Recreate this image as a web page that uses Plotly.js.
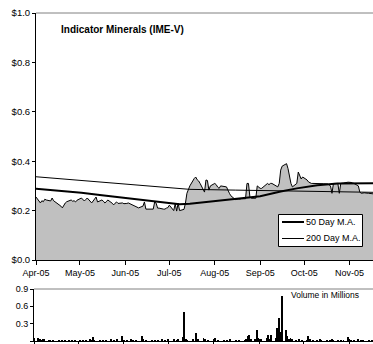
<!DOCTYPE html>
<html>
<head>
<meta charset="utf-8">
<script src="https://cdn.plot.ly/plotly-3.0.1.min.js"></script>
<style>html,body{margin:0;padding:0;background:#fff;}#chart{width:373px;height:344px;}</style>
</head>
<body>
<div id="chart"></div>
<script>
// Closing price (C$) by trading day, 2005 (MM-DD)
var priceDates = [
 '04-01','04-04','04-05','04-06','04-07','04-08','04-11','04-12','04-13','04-14','04-15','04-18','04-19','04-20','04-21','04-22','04-25','04-26','04-27','04-28','04-29',
 '05-02','05-03','05-04','05-05','05-06','05-09','05-10','05-11','05-12','05-13','05-16','05-17','05-18','05-19','05-20','05-23','05-24','05-25','05-26','05-27','05-30','05-31',
 '06-01','06-02','06-03','06-06','06-07','06-08','06-09','06-10','06-13','06-14','06-15','06-16','06-17','06-20','06-21','06-22','06-23','06-24','06-27','06-28','06-29','06-30',
 '07-01','07-04','07-05','07-06','07-07','07-08','07-11','07-12','07-13','07-14','07-15','07-18','07-19','07-20','07-21','07-22','07-25','07-26','07-27','07-28','07-29',
 '08-01','08-02','08-03','08-04','08-05','08-08','08-09','08-11','08-12','08-15','08-16','08-17','08-18','08-19','08-22','08-23','08-24','08-25','08-26','08-29','08-30','08-31',
 '09-01','09-02','09-06','09-07','09-08','09-09','09-12','09-13','09-14','09-15','09-16','09-19','09-20','09-21','09-22','09-23','09-26','09-27','09-28','09-29','09-30',
 '10-03','10-04','10-05','10-06','10-07','10-10','10-11','10-12','10-13','10-14','10-17','10-18','10-19','10-20','10-21','10-24','10-25','10-26','10-27','10-28','10-31',
 '11-01','11-02','11-03','11-04','11-07','11-08','11-09','11-10','11-11','11-14','11-15','11-16','11-17'
];
var priceValues = [
 0.255,0.231,0.240,0.236,0.246,0.243,0.239,0.251,0.240,0.236,0.231,0.218,0.211,0.222,0.231,0.236,0.243,0.238,0.240,0.235,0.242,
 0.251,0.243,0.239,0.245,0.251,0.231,0.238,0.246,0.255,0.235,0.243,0.238,0.231,0.236,0.243,0.230,0.223,0.230,0.235,0.229,0.231,0.228,
 0.227,0.229,0.231,0.223,0.220,0.216,0.213,0.211,0.218,0.235,0.206,0.206,0.206,0.206,0.235,0.230,0.210,0.210,0.206,0.206,0.210,0.212,
 0.222,0.200,0.228,0.198,0.230,0.200,0.205,0.230,0.270,0.290,0.300,0.330,0.336,0.325,0.320,0.310,0.275,0.324,0.322,0.283,0.300,
 0.310,0.305,0.295,0.290,0.300,0.295,0.296,0.270,0.260,0.245,0.247,0.247,0.246,0.248,0.248,0.310,0.310,0.255,0.250,0.250,0.300,0.295,
 0.290,0.290,0.310,0.305,0.310,0.310,0.300,0.296,0.310,0.364,0.380,0.390,0.370,0.336,0.310,0.296,0.310,0.356,0.340,0.328,0.336,
 0.324,0.316,0.312,0.310,0.310,0.310,0.312,0.310,0.310,0.309,0.308,0.305,0.300,0.270,0.310,0.310,0.270,0.310,0.310,0.312,0.315,
 0.316,0.314,0.312,0.310,0.300,0.275,0.270,0.272,0.272,0.270,0.270,0.268,0.268
];
// 50 day moving average
var ma50Dates  = ['04-01','04-15','05-02','05-16','06-01','06-15','07-01','07-08','07-15','08-01','08-15','09-01','09-15','09-26','10-10','10-24','11-17'];
var ma50Values = [0.288,0.282,0.272,0.262,0.252,0.243,0.232,0.226,0.228,0.238,0.245,0.258,0.277,0.290,0.303,0.310,0.311];
// 200 day moving average
var ma200Dates  = ['04-01','05-01','06-01','07-01','07-15','08-15','09-15','10-15','11-17'];
var ma200Values = [0.337,0.322,0.305,0.290,0.286,0.283,0.280,0.277,0.274];
// Volume in millions
var volDates = [
 '04-01','04-04','04-05','04-06','04-07','04-08','04-11','04-12','04-14','04-18','04-20','04-22','04-25','04-27','04-29',
 '05-02','05-04','05-06','05-09','05-10','05-11','05-12','05-16','05-18','05-20','05-23','05-25','05-27','05-31',
 '06-01','06-03','06-06','06-07','06-09','06-13','06-14','06-16','06-20','06-22','06-24','06-27','06-29',
 '07-01','07-05','07-07','07-08','07-11','07-12','07-13','07-14','07-18','07-20','07-21','07-25','07-26','07-28',
 '08-01','08-02','08-04','08-08','08-10','08-12','08-16','08-18','08-22','08-23','08-24','08-25','08-26','08-29','08-30','08-31',
 '09-01','09-02','09-06','09-07','09-08','09-09','09-12','09-13','09-14','09-15','09-16','09-19','09-20','09-21','09-22','09-23','09-26','09-28','09-30',
 '10-03','10-04','10-05','10-07','10-10','10-12','10-13','10-17','10-19','10-20','10-21','10-24','10-26','10-28','10-31',
 '11-01','11-02','11-04','11-07','11-09','11-10','11-14','11-16','11-17'
];
var volValues = [
 0.06,0.05,0.03,0.02,0.03,0.04,0.02,0.01,0.02,0.01,0.02,0.02,0.01,0.02,0.01,
 0.02,0.01,0.02,0.03,0.02,0.07,0.02,0.01,0.02,0.01,0.03,0.02,0.03,0.09,
 0.02,0.02,0.04,0.02,0.01,0.09,0.03,0.02,0.01,0.02,0.02,0.03,0.02,
 0.04,0.03,0.02,0.03,0.07,0.50,0.04,0.02,0.03,0.13,0.04,0.05,0.03,0.02,
 0.03,0.05,0.02,0.01,0.02,0.03,0.02,0.01,0.02,0.04,0.08,0.10,0.03,0.04,0.19,0.06,
 0.04,0.03,0.06,0.10,0.04,0.10,0.05,0.22,0.40,0.15,0.78,0.19,0.08,0.04,0.05,0.03,0.02,0.03,0.02,
 0.02,0.09,0.03,0.02,0.01,0.04,0.02,0.02,0.01,0.03,0.02,0.01,0.02,0.02,0.07,
 0.03,0.02,0.02,0.03,0.02,0.01,0.02,0.01,0.02
];
var priceTicks = [0, 0.2, 0.4, 0.6, 0.8, 1.0];
var priceTickLabels = ['$0.0', '$0.2', '$0.4', '$0.6', '$0.8', '$1.0'];
var volTicks = [0, 0.3, 0.6, 0.9];
var volTickLabels = ['0.0', '0.3', '0.6', '0.9'];
var monthTicks = ['04-01','05-01','06-01','07-01','08-01','09-01','10-01','11-01'];
var monthLabels = ['Apr-05','May-05','Jun-05','Jul-05','Aug-05','Sep-05','Oct-05','Nov-05'];
var chartTitle = 'Indicator Minerals (IME-V)';
var volTitle = 'Volume in Millions';
var legendNames = ['50 Day M.A.', '200 Day M.A.'];

function d(a){ return a.map(function(s){ return '2005-' + s; }); }

var W = 373, H = 344;
var FONT = 'Arial, "Liberation Sans", sans-serif';
var xRange = ['2005-04-01', '2005-11-17'];
function px(x){ return x / W; }
function py(y){ return (H - y) / H; }

var traces = [
 {x: d(priceDates), y: priceValues, type: 'scatter', mode: 'lines', fill: 'tozeroy',
  fillcolor: '#C0C0C0', line: {color: '#000', width: 1}, showlegend: false, hoverinfo: 'skip',
  xaxis: 'x', yaxis: 'y'},
 {x: d(ma50Dates), y: ma50Values, type: 'scatter', mode: 'lines', name: legendNames[0],
  line: {color: '#000', width: 2}, showlegend: false, xaxis: 'x', yaxis: 'y'},
 {x: d(ma200Dates), y: ma200Values, type: 'scatter', mode: 'lines', name: legendNames[1],
  line: {color: '#000', width: 1}, showlegend: false, xaxis: 'x', yaxis: 'y'},
 {x: d(volDates), y: volValues, type: 'bar', marker: {color: '#000', line: {width: 0}},
  width: 86400000 * 1.3, showlegend: false, xaxis: 'x2', yaxis: 'y2'}
];

var layout = {
 width: W, height: H,
 margin: {l: 0, r: 0, t: 0, b: 0},
 paper_bgcolor: '#fff', plot_bgcolor: '#fff',
 showlegend: false,
 font: {family: FONT, size: 9, color: '#000'},
 xaxis: {type: 'date', domain: [px(36), 1], range: xRange, anchor: 'y',
  tickmode: 'array', tickvals: d(monthTicks), ticktext: monthLabels, ticks: 'outside', ticklen: 4, tickcolor: '#000',
  showline: true, linecolor: '#000', linewidth: 1, showgrid: false, zeroline: false,
  tickfont: {family: FONT, size: 9, color: '#000'}},
 yaxis: {domain: [py(260), py(13)], range: [0, 1], anchor: 'x',
  tickmode: 'array', tickvals: priceTicks, ticktext: priceTickLabels, ticks: 'outside', ticklen: 3, tickcolor: '#000',
  showline: true, linecolor: '#000', linewidth: 1, showgrid: false, zeroline: false,
  tickfont: {family: FONT, size: 9.5, color: '#000'}},
 xaxis2: {type: 'date', domain: [px(34), 1], range: xRange, anchor: 'y2',
  tickmode: 'array', tickvals: d(monthTicks), showticklabels: false, ticks: 'outside', ticklen: 3, tickcolor: '#000',
  showline: true, linecolor: '#000', linewidth: 1, showgrid: false, zeroline: false},
 yaxis2: {domain: [py(341), py(289)], range: [0, 0.9], anchor: 'x2',
  tickmode: 'array', tickvals: volTicks, ticktext: volTickLabels, ticks: 'outside', ticklen: 3, tickcolor: '#000',
  showline: true, linecolor: '#000', linewidth: 1, showgrid: false, zeroline: false,
  tickfont: {family: FONT, size: 9, color: '#000'}},
 bargap: 0,
 shapes: [
  {type: 'line', xref: 'x domain', yref: 'y domain', x0: 0, x1: 1, y0: 1, y1: 1, line: {color: '#808080', width: 1}},
  {type: 'line', xref: 'x2 domain', yref: 'y2 domain', x0: 0, x1: 1, y0: 1, y1: 1, line: {color: '#808080', width: 1}},
  // legend box and samples
  {type: 'rect', xref: 'paper', yref: 'paper', x0: px(278.5), x1: px(362.5), y0: py(214.5), y1: py(246.5),
   fillcolor: '#fff', line: {color: '#000', width: 1}},
  {type: 'line', xref: 'paper', yref: 'paper', x0: px(282), x1: px(304), y0: py(222), y1: py(222), line: {color: '#000', width: 2}},
  {type: 'line', xref: 'paper', yref: 'paper', x0: px(282), x1: px(304), y0: py(238.5), y1: py(238.5), line: {color: '#000', width: 1}}
 ],
 annotations: [
  {text: '<b>' + chartTitle + '</b>', xref: 'paper', yref: 'paper', x: px(59), y: py(29),
   xanchor: 'left', yanchor: 'middle', showarrow: false, font: {family: FONT, size: 10, color: '#000'}},
  {text: volTitle, xref: 'paper', yref: 'paper', x: px(289), y: py(295),
   xanchor: 'left', yanchor: 'middle', showarrow: false, font: {family: FONT, size: 8.5, color: '#000'}},
  {text: legendNames[0], xref: 'paper', yref: 'paper', x: px(304), y: py(222),
   xanchor: 'left', yanchor: 'middle', showarrow: false, font: {family: FONT, size: 9, color: '#000'}},
  {text: legendNames[1], xref: 'paper', yref: 'paper', x: px(304), y: py(238),
   xanchor: 'left', yanchor: 'middle', showarrow: false, font: {family: FONT, size: 9, color: '#000'}}
 ]
};

Plotly.newPlot('chart', traces, layout, {staticPlot: true, displayModeBar: false});
</script>
</body>
</html>
